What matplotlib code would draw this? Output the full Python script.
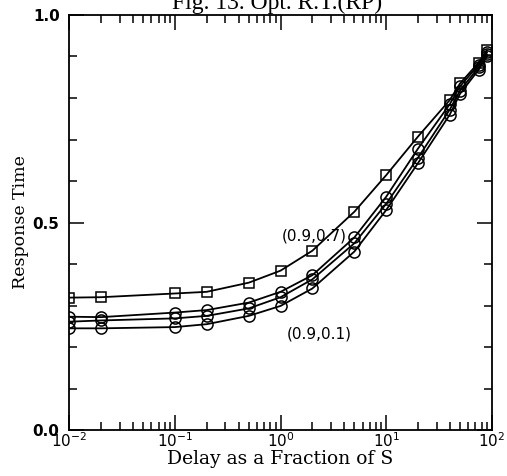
import matplotlib
matplotlib.use("Agg")
import matplotlib.pyplot as plt
from matplotlib.ticker import LogLocator, MultipleLocator, FormatStrFormatter

# delay values (fraction of S)
delay = [0.01, 0.02, 0.1, 0.2, 0.5, 1, 2, 5, 10, 20, 40, 50, 75, 90]

# response time curves
rt_sq = [0.319, 0.320, 0.329, 0.333, 0.355, 0.384, 0.432, 0.526, 0.614, 0.707, 0.795, 0.835, 0.885, 0.915]
rt_c1 = [0.273, 0.272, 0.283, 0.289, 0.307, 0.333, 0.373, 0.464, 0.562, 0.678, 0.785, 0.828, 0.880, 0.910]
rt_c2 = [0.261, 0.264, 0.269, 0.275, 0.293, 0.320, 0.363, 0.450, 0.545, 0.656, 0.772, 0.818, 0.874, 0.905]
rt_c3 = [0.245, 0.245, 0.248, 0.255, 0.275, 0.299, 0.341, 0.430, 0.530, 0.643, 0.760, 0.810, 0.868, 0.900]

label_top = "(0.9,0.7)"
label_bot = "(0.9,0.1)"

fig = plt.figure(figsize=(5.07, 4.76), dpi=100)
ax = fig.add_axes([0.1367, 0.0966, 0.8333, 0.8719])

ax.plot(delay, rt_sq, color="black", lw=1.3, marker="s", ms=7, mfc="none", mew=1.1)
for ys in (rt_c1, rt_c2, rt_c3):
    ax.plot(delay, ys, color="black", lw=1.3, marker="o", ms=8, mfc="none", mew=1.1)

ax.set_xscale("log")
ax.set_xlim(0.01, 100)
ax.set_ylim(0.0, 1.0)

ax.xaxis.set_major_locator(LogLocator(base=10, numticks=10))
ax.xaxis.set_minor_locator(LogLocator(base=10, subs=range(2, 10), numticks=10))
ax.yaxis.set_major_locator(MultipleLocator(0.5))
ax.yaxis.set_minor_locator(MultipleLocator(0.1))
ax.yaxis.set_major_formatter(FormatStrFormatter("%.1f"))

ax.tick_params(which="both", direction="in", top=True, right=True, width=1.1)
ax.tick_params(which="major", length=11)
ax.tick_params(which="minor", length=5.5)
ax.tick_params(axis="x", which="major", pad=1, labelsize=11)
ax.tick_params(axis="y", which="major", pad=7, labelsize=11)
for lab in ax.get_yticklabels():
    lab.set_fontweight("bold")
for sp in ax.spines.values():
    sp.set_linewidth(1.3)

ax.set_xlabel("Delay as a Fraction of S", fontsize=13.5, family="DejaVu Serif", labelpad=0)
ax.set_ylabel("Response Time", fontsize=12.5, family="DejaVu Serif", labelpad=3)

ax.text(2.1, 0.467, label_top, ha="center", va="center", fontsize=11)
ax.text(2.3, 0.231, label_bot, ha="center", va="center", fontsize=11)

fig.text(0.546, 0.981, "Fig. 13. Opt. R.T.(RP)", ha="center", va="baseline",
         fontsize=17, family="Liberation Serif")

fig.savefig("out.png", dpi=100)
